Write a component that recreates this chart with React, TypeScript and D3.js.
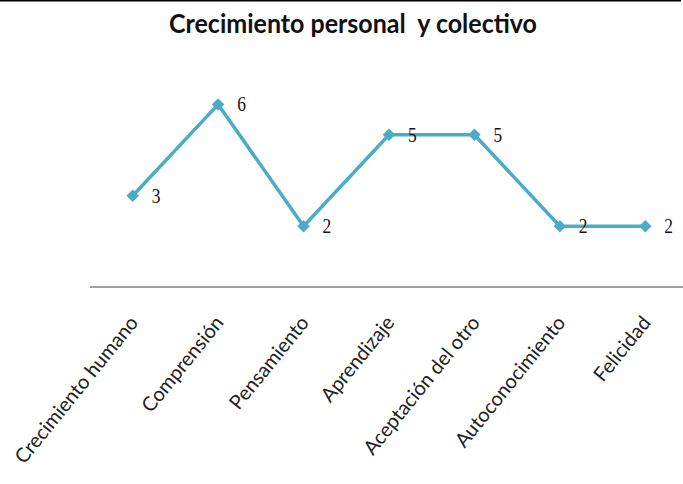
import React from "react";
import * as d3 from "d3";

const title = "Crecimiento personal  y colectivo";
const categories = [
  "Crecimiento humano",
  "Comprensión",
  "Pensamiento",
  "Aprendizaje",
  "Aceptación del otro",
  "Autoconocimiento",
  "Felicidad",
];
const values = [3, 6, 2, 5, 5, 2, 2];

const W = 683;
const H = 484;
const COLOR = "#4bacc6";

export default function App() {
  const x = d3.scaleBand<string>().domain(categories).range([90, 688]).padding(0);
  const y = d3.scaleLinear().domain([0, 7]).range([287, 74]);
  const cx = (c: string) => (x(c) as number) + x.bandwidth() / 2;

  const line = d3
    .line<number>()
    .x((_, i) => cx(categories[i]))
    .y((v) => y(v));

  const diamond = d3.symbol().type(d3.symbolSquare).size(78)() as string;

  return (
    <svg
      width={W}
      height={H}
      style={{ position: "absolute", left: 0, top: 0, background: "#fff" }}
    >
      <rect x={0} y={0} width={681} height={1.5} fill="#000" />
      <text
        x={353}
        y={33}
        textAnchor="middle"
        fontFamily="Lato, 'Open Sans', sans-serif"
        fontWeight="bold"
        fontSize={27}
        fill="#111"
        textLength={368}
        lengthAdjust="spacingAndGlyphs"
        style={{ whiteSpace: "pre" }}
      >
        {title}
      </text>

      <line
        x1={x.range()[0]}
        x2={x.range()[1]}
        y1={y(0)}
        y2={y(0)}
        stroke="#a0a0a0"
        strokeWidth={2}
      />

      <path d={line(values) as string} fill="none" stroke={COLOR} strokeWidth={3.5} />

      {values.map((v, i) => (
        <path
          key={"m" + i}
          d={diamond}
          transform={`translate(${cx(categories[i])},${y(v)}) rotate(45)`}
          fill={COLOR}
        />
      ))}

      {values.map((v, i) => (
        <text
          key={"l" + i}
          transform={`translate(${cx(categories[i]) + 19},${y(v)}) scale(0.87,1)`}
          dominantBaseline="central"
          fontFamily="'Liberation Serif', serif"
          fontSize={20}
          fill="#111"
        >
          {v}
        </text>
      ))}

      {categories.map((c) => (
        <text
          key={c}
          transform={`translate(${cx(c) - 6},${313}) rotate(-51)`}
          textAnchor="end"
          dominantBaseline="hanging"
          fontFamily="Lato, 'Open Sans', sans-serif"
          fontSize={20}
          fill="#222"
        >
          {c}
        </text>
      ))}
    </svg>
  );
}
